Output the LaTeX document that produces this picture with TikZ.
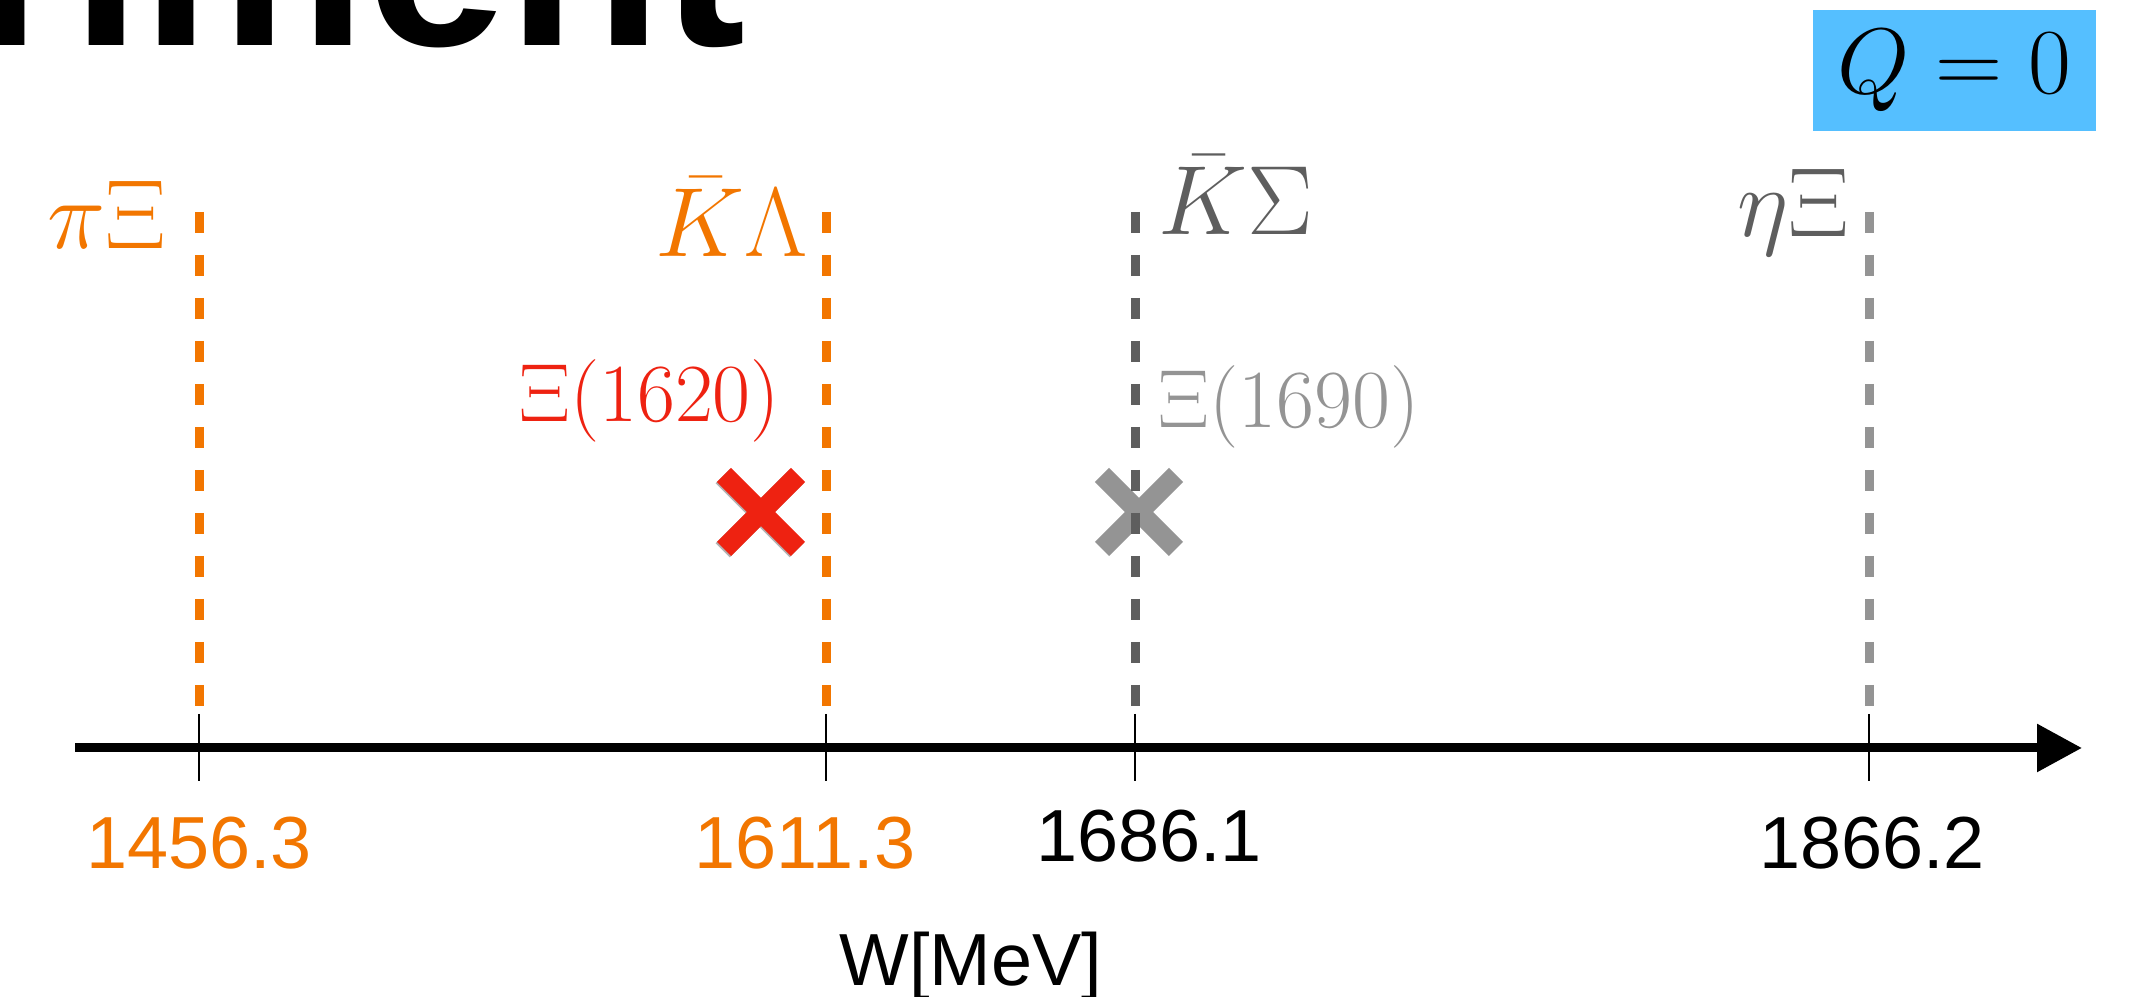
\RequirePackage{fix-cm}
\documentclass[tikz,border=0pt]{standalone}
\usepackage{fontspec}
\setsansfont{Liberation Sans}
\usetikzlibrary{arrows.meta,positioning,shapes.misc}

\definecolor{throrange}{RGB}{242,118,0}
\definecolor{resred}{RGB}{238,34,17}
\definecolor{thrdark}{RGB}{94,94,94}
\definecolor{thrlight}{RGB}{148,148,148}
\definecolor{chargeblue}{RGB}{85,191,255}

\begin{document}
\begin{tikzpicture}[
		font=\sffamily,
		>=Triangle,
		chanlabel/.style={font=\fontsize{28}{34}\selectfont, inner sep=0pt},
		reslabel/.style={font=\fontsize{23.5}{28}\selectfont, inner sep=0pt},
		ticklabel/.style={font=\sffamily\fontsize{21}{25}\selectfont, inner sep=0pt, anchor=base},
		thrline/.style={line width=0.09cm, dash pattern=on 0.21cm off 0.22cm},
		tickmark/.style={line width=0.025cm, black},
		resmark/.style={cross out, draw, line width=0.2cm, minimum size=0.74cm, inner sep=0pt, outer sep=0pt},
		axisline/.style={line width=0.09cm, -{Triangle[length=0.45cm, width=0.46cm]}}
		]
		\useasboundingbox (0,0) rectangle (21.41,9.97);
		\clip (0,0) rectangle (21.41,9.97);

		% slide title, cut by the top edge
		\node[font=\sffamily\bfseries\fontsize{72}{80}\selectfont, inner sep=0pt, anchor=base east] (title) at (7.47,9.51) {Experiment};

		\node[fill=chargeblue, minimum width=2.83cm, minimum height=1.21cm, inner sep=0pt, font=\fontsize{26.5}{31}\selectfont] (charge) at (19.545,9.265) {$Q=0$};

		% thresholds on the axis
		\coordinate (piXi) at (1.99,2.49);
		\coordinate (KLam) at (8.26,2.49);
		\coordinate (KSig) at (11.35,2.49);
		\coordinate (etaXi) at (18.69,2.49);
		\coordinate (axisstart) at (0.75,2.49);
		\coordinate (axisend) at (20.82,2.49);

		% resonance poles
		\node[resmark, draw=gray!60] (Xi1620shadow) at (7.597,4.837) {};
		\node[resmark, draw=resred] (Xi1620mark) at (7.61,4.85) {};
		\node[resmark, draw=thrlight] (Xi1690mark) at (11.39,4.85) {};
		\node[reslabel, text=resred, anchor=base east] (Xi1620) at (7.81,5.75) {$\Xi(1620)$};
		\node[reslabel, text=thrlight, anchor=base west] (Xi1690) at (11.58,5.69) {$\Xi(1690)$};

		\draw[thrline, throrange] ([yshift=5.36cm]piXi) -- ([yshift=0.42cm]piXi);
		\draw[thrline, throrange] ([yshift=5.36cm]KLam) -- ([yshift=0.42cm]KLam);
		\draw[thrline, thrdark] ([yshift=5.36cm]KSig) -- ([yshift=0.42cm]KSig);
		\draw[thrline, thrlight] ([yshift=5.36cm]etaXi) -- ([yshift=0.42cm]etaXi);

		\node[chanlabel, text=throrange, anchor=base east] (piXiname) at (1.67,7.48) {$\pi\Xi$};
		\node[chanlabel, text=throrange, anchor=base west] (KLamname) at (6.55,7.40) {$\bar{K}\Lambda$};
		\node[chanlabel, text=thrdark, anchor=base west] (KSigname) at (11.58,7.62) {$\bar{K}\Sigma$};
		\node[chanlabel, text=thrdark, anchor=base east] (etaXiname) at (18.50,7.60) {$\eta\Xi$};

		\draw[axisline] (axisstart) -- (axisend);
		\foreach \thr in {piXi,KLam,KSig,etaXi}
			\draw[tickmark] ([yshift=0.34cm]\thr) -- ([yshift=-0.33cm]\thr);

		\node[ticklabel, text=throrange] (piXival) at (1.99,1.28) {1456.3};
		\node[ticklabel, text=throrange] (KLamval) at (8.05,1.28) {1611.3};
		\node[ticklabel] (KSigval) at (11.49,1.35) {1686.1};
		\node[ticklabel] (etaXival) at (18.72,1.28) {1866.2};
		\node[ticklabel] (wlabel) at (9.71,0.11) {W[MeV]};
	\end{tikzpicture}
\end{document}
